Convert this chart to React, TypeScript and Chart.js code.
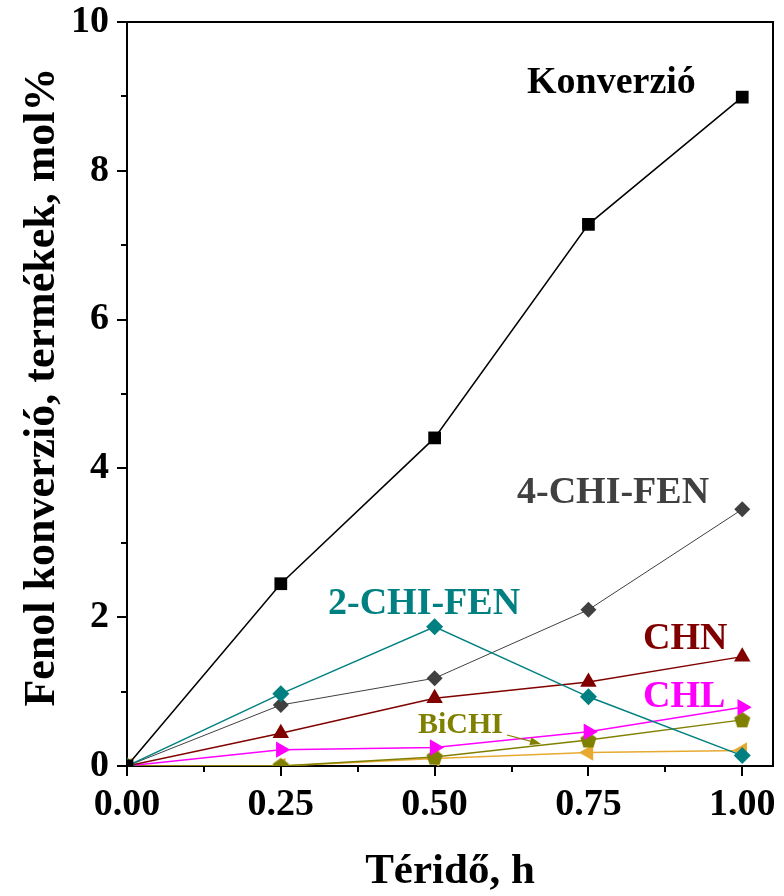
import { useEffect, useRef } from 'react';
import { Chart, registerables } from 'chart.js';

Chart.register(...registerables);

// Reaction time (h)
const hours = [0, 0.25, 0.5, 0.75, 1.0];

// Phenol conversion and product yields, mol%
const konverzio = [0, 2.45, 4.41, 7.28, 8.99];
const chiFen4 = [0, 0.82, 1.18, 2.1, 3.45];
const chiFen2 = [0, 0.97, 1.87, 0.93, 0.14];
const chn = [0, 0.44, 0.91, 1.13, 1.47];
const chl = [0, 0.22, 0.25, 0.46, 0.79];
const bichi = [0, 0, 0.12, 0.35, 0.62];
const egyeb = [0, 0, 0.1, 0.18, 0.21];

// Axis ticks
const xTicks = [0, 0.25, 0.5, 0.75, 1.0];
const xMinorTicks = [0.125, 0.375, 0.625, 0.875];
const yTicks = [0, 2, 4, 6, 8, 10];
const yMinorTicks = [1, 3, 5, 7, 9];

const FONT = "'Liberation Serif', 'Times New Roman', serif";

const toPoints = (ys: number[]) => hours.map((x, i) => ({ x, y: ys[i] }));

function pentagonImage(color: string, r: number): HTMLCanvasElement {
  const size = Math.ceil(r * 2 + 2);
  const c = document.createElement('canvas');
  c.width = size;
  c.height = size;
  const ctx = c.getContext('2d')!;
  const cx = size / 2;
  const cy = size / 2 + 0.5;
  ctx.beginPath();
  for (let k = 0; k < 5; k++) {
    const a = -Math.PI / 2 + (k * 2 * Math.PI) / 5;
    const px = cx + r * Math.cos(a);
    const py = cy + r * Math.sin(a);
    if (k === 0) ctx.moveTo(px, py);
    else ctx.lineTo(px, py);
  }
  ctx.closePath();
  ctx.fillStyle = color;
  ctx.fill();
  return c;
}

const decorations = {
  id: 'decorations',
  afterDraw(chart: any) {
    const { ctx, chartArea, scales } = chart;
    const xs = scales.x;
    const ys = scales.y;
    ctx.save();

    // frame on top and right
    ctx.strokeStyle = '#000';
    ctx.lineWidth = 2;
    ctx.beginPath();
    ctx.moveTo(chartArea.left, chartArea.top);
    ctx.lineTo(chartArea.right, chartArea.top);
    ctx.lineTo(chartArea.right, chartArea.bottom);
    ctx.stroke();

    // minor ticks
    ctx.beginPath();
    for (const v of xMinorTicks) {
      const px = Math.round(xs.getPixelForValue(v));
      ctx.moveTo(px, chartArea.bottom);
      ctx.lineTo(px, chartArea.bottom + 6);
    }
    for (const v of yMinorTicks) {
      const py = Math.round(ys.getPixelForValue(v));
      ctx.moveTo(chartArea.left, py);
      ctx.lineTo(chartArea.left - 6, py);
    }
    ctx.stroke();

    // series labels
    ctx.textBaseline = 'alphabetic';
    ctx.textAlign = 'left';
    const label = (t: string, x: number, y: number, color: string, size: number) => {
      ctx.font = `bold ${size}px ${FONT}`;
      ctx.fillStyle = color;
      ctx.fillText(t, x, y);
    };
    label('Konverzió', 527, 93, '#000000', 38);
    label('4-CHI-FEN', 517, 503, '#404040', 38);
    label('2-CHI-FEN', 328, 614, '#008080', 38);
    label('CHN', 643, 649, '#800000', 38);
    label('CHL', 643, 707, '#FF00FF', 38);
    label('BiCHI', 418, 733, '#808000', 30);

    // BiCHI arrow
    const x0 = 507, y0 = 735, x1 = 541, y1 = 744;
    ctx.strokeStyle = '#808000';
    ctx.fillStyle = '#808000';
    ctx.lineWidth = 1.2;
    ctx.beginPath();
    ctx.moveTo(x0, y0);
    ctx.lineTo(x1 - 6, y1 - 1.6);
    ctx.stroke();
    const ang = Math.atan2(y1 - y0, x1 - x0);
    ctx.beginPath();
    ctx.moveTo(x1, y1);
    ctx.lineTo(x1 - 11 * Math.cos(ang) + 4 * Math.sin(ang), y1 - 11 * Math.sin(ang) - 4 * Math.cos(ang));
    ctx.lineTo(x1 - 11 * Math.cos(ang) - 4 * Math.sin(ang), y1 - 11 * Math.sin(ang) + 4 * Math.cos(ang));
    ctx.closePath();
    ctx.fill();

    // axis titles
    ctx.fillStyle = '#000';
    ctx.font = `bold 43px ${FONT}`;
    ctx.textAlign = 'center';
    ctx.fillText('Téridő, h', (chartArea.left + chartArea.right) / 2, 883);
    ctx.font = `bold 44px ${FONT}`;
    ctx.translate(54, 387);
    ctx.rotate(-Math.PI / 2);
    ctx.fillText('Fenol konverzió, termékek, mol%', 0, 0);

    ctx.restore();
  },
};

export default function App() {
  const ref = useRef<HTMLCanvasElement | null>(null);

  useEffect(() => {
    if (!ref.current) return;
    const pent = pentagonImage('#808000', 8.5);
    const line = (label: string, ys: number[], color: string, extra: any) => ({
      label,
      data: toPoints(ys),
      borderColor: color,
      backgroundColor: color,
      pointBackgroundColor: color,
      pointBorderColor: color,
      borderWidth: 1.5,
      pointBorderWidth: 0,
      showLine: true,
      tension: 0,
      ...extra,
    });

    const chart = new Chart(ref.current, {
      type: 'scatter',
      data: {
        datasets: [
          line('Konverzió', konverzio, '#000000', { pointStyle: 'rect', pointRadius: 9 }),
          line('2-CHI-FEN', chiFen2, '#008080', { pointStyle: 'rectRot', pointRadius: 8.5 }),
          line('4-CHI-FEN', chiFen4, '#404040', { pointStyle: 'rectRot', pointRadius: 8, borderWidth: 1 }),
          line('CHN', chn, '#800000', { pointStyle: 'triangle', pointRadius: 9.5 }),
          line('CHL', chl, '#FF00FF', { pointStyle: 'triangle', pointRadius: 9.5, pointRotation: 90 }),
          line('BiCHI', bichi, '#808000', { pointStyle: pent }),
          line('Egyéb', egyeb, '#E8A930', { pointStyle: 'triangle', pointRadius: 9.5, pointRotation: -90 }),
        ],
      },
      options: {
        animation: false,
        responsive: false,
        maintainAspectRatio: false,
        layout: { padding: { left: 0, right: 11, top: 22, bottom: 0 } },
        plugins: { legend: { display: false }, tooltip: { enabled: false } },
        scales: {
          x: {
            type: 'linear',
            min: 0,
            max: 1.05,
            afterBuildTicks: (s: any) => {
              s.ticks = xTicks.map((value) => ({ value }));
            },
            afterFit: (s: any) => {
              s.height = 130;
              s.paddingLeft = 0;
              s.paddingRight = 0;
            },
            ticks: {
              callback: (v: any) => Number(v).toFixed(2),
              font: { family: FONT, size: 38, weight: 'bold' },
              color: '#000',
              padding: 6,
              maxRotation: 0,
              autoSkip: false,
            },
            grid: { drawOnChartArea: false, drawTicks: true, tickLength: 10, color: '#000', lineWidth: 2 },
            border: { display: true, color: '#000', width: 2 },
          },
          y: {
            type: 'linear',
            min: 0,
            max: 10,
            afterBuildTicks: (s: any) => {
              s.ticks = yTicks.map((value) => ({ value }));
            },
            afterFit: (s: any) => {
              s.width = 127;
              s.paddingTop = 0;
              s.paddingBottom = 0;
            },
            ticks: {
              callback: (v: any) => String(v),
              font: { family: FONT, size: 38, weight: 'bold', lineHeight: 1 },
              color: '#000',
              padding: 8,
              autoSkip: false,
            },
            grid: { drawOnChartArea: false, drawTicks: true, tickLength: 10, color: '#000', lineWidth: 2 },
            border: { display: true, color: '#000', width: 2 },
          },
        },
      },
      plugins: [decorations],
    });
    return () => chart.destroy();
  }, []);

  return (
    <div style={{ position: 'absolute', left: 0, top: 0, width: 784, height: 896, background: '#fff' }}>
      <canvas ref={ref} width={784} height={896} style={{ width: 784, height: 896, display: 'block' }} />
    </div>
  );
}
